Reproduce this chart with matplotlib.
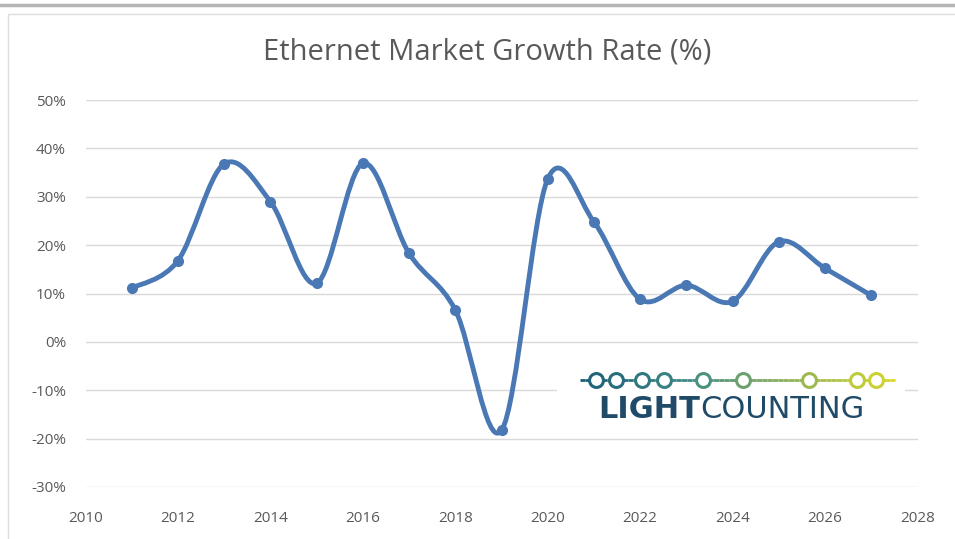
import numpy as np
import matplotlib
matplotlib.use("Agg")
import matplotlib.pyplot as plt
from matplotlib.path import Path
from matplotlib.patches import PathPatch, Rectangle
from matplotlib.collections import LineCollection
from matplotlib.ticker import FuncFormatter
from matplotlib.colors import LinearSegmentedColormap

# ---- data ----
years = [2011, 2012, 2013, 2014, 2015, 2016, 2017, 2018, 2019,
         2020, 2021, 2022, 2023, 2024, 2025, 2026, 2027]
growth = [11.1, 16.8, 36.8, 29.0, 12.1, 36.9, 18.3, 6.6, -18.3,
          33.7, 24.8, 8.8, 11.7, 8.4, 20.7, 15.2, 9.6]
x_ticks = list(range(2010, 2029, 2))
y_ticks = list(range(-30, 51, 10))
title = "Ethernet Market Growth Rate (%)"

W, H = 955, 539
fig = plt.figure(figsize=(W / 100, H / 100), dpi=100)
plt.rcParams['font.family'] = ['Open Sans', 'DejaVu Sans']

def fx(x):
    return x / W

def fy(y):
    return 1 - y / H

# frame
fig.add_artist(plt.Line2D([0, 1], [fy(5), fy(5)], transform=fig.transFigure,
                          color='#b5b5b5', lw=2.5))
fig.add_artist(Rectangle((fx(8), fy(560)), 1.2, fy(14) - fy(560), transform=fig.transFigure,
                         fill=False, edgecolor='#dcdcdc', lw=1.0))

ax = fig.add_axes([fx(85.5), fy(487), fx(917.5) - fx(85.5), fy(100) - fy(487)])
ax.set_xlim(2010, 2028)
ax.set_ylim(-30, 50)
for s in ax.spines.values():
    s.set_visible(False)
ax.set_yticks(y_ticks)
ax.set_xticks(x_ticks)
ax.yaxis.set_major_formatter(FuncFormatter(lambda v, p: f"{int(v)}%"))
ax.grid(axis='y', color='#d9d9d9', lw=1.0)
ax.set_axisbelow(True)
ax.tick_params(axis='both', length=0, labelsize=11, colors='#595959')
ax.tick_params(axis='y', pad=14)
ax.tick_params(axis='x', pad=17)

# Excel-style smoothed line (Catmull-Rom Bezier)
xs = np.array(years, dtype=float)
ys = np.array(growth, dtype=float)
P = np.column_stack([xs, ys])
n = len(P)
verts = [tuple(P[0])]
codes = [Path.MOVETO]
for i in range(n - 1):
    p0 = P[i - 1] if i > 0 else P[i]
    p1 = P[i]
    p2 = P[i + 1]
    p3 = P[i + 2] if i + 2 < n else P[i + 1]
    c1 = p1 + (p2 - p0) / 6.0
    c2 = p2 - (p3 - p1) / 6.0
    verts += [tuple(c1), tuple(c2), tuple(p2)]
    codes += [Path.CURVE4] * 3
line_color = '#4a78b4'
ax.add_patch(PathPatch(Path(verts, codes), fill=False, edgecolor=line_color, lw=3.5,
                       capstyle='round', joinstyle='round', zorder=3))
ax.plot(years, growth, linestyle='none', marker='o', markersize=7, color=line_color, zorder=4)

fig.text(fx(487), fy(52), title, ha='center', va='center', fontsize=21, color='#595959')

# logo (white box hides gridlines behind it)
fig.add_artist(Rectangle((fx(557), fy(434)), fx(905) - fx(557), fy(362) - fy(434),
                         transform=fig.transFigure, facecolor='white', edgecolor='none'))
cmap = LinearSegmentedColormap.from_list('lc', ['#1d5d78', '#3f8a86', '#8fb35a', '#d8d82a'])
lx = np.linspace(580, 895, 60)
segs = [[(fx(lx[i]), fy(380)), (fx(lx[i + 1]), fy(380))] for i in range(len(lx) - 1)]
cols = [cmap(i / (len(segs) - 1)) for i in range(len(segs))]
fig.add_artist(LineCollection(segs, colors=cols, lw=2.0, transform=fig.transFigure))
circ_x = [596, 616, 642, 664, 703, 743, 809, 857, 876]
for cx in circ_x:
    t = (cx - 580) / 315
    fig.add_artist(plt.Line2D([fx(cx)], [fy(380)], transform=fig.transFigure, marker='o',
                              markersize=10, markerfacecolor='white',
                              markeredgecolor=cmap(t), markeredgewidth=2.2))
fig.text(fx(700), fy(410), "LIGHT", ha='right', va='center', fontsize=22,
         fontweight='bold', color='#1f4a68', family=['DejaVu Sans'])
fig.text(fx(700), fy(410), "COUNTING", ha='left', va='center', fontsize=22,
         color='#1f4a68', family=['DejaVu Sans'])

fig.savefig('out.png', dpi=100, facecolor='white')
